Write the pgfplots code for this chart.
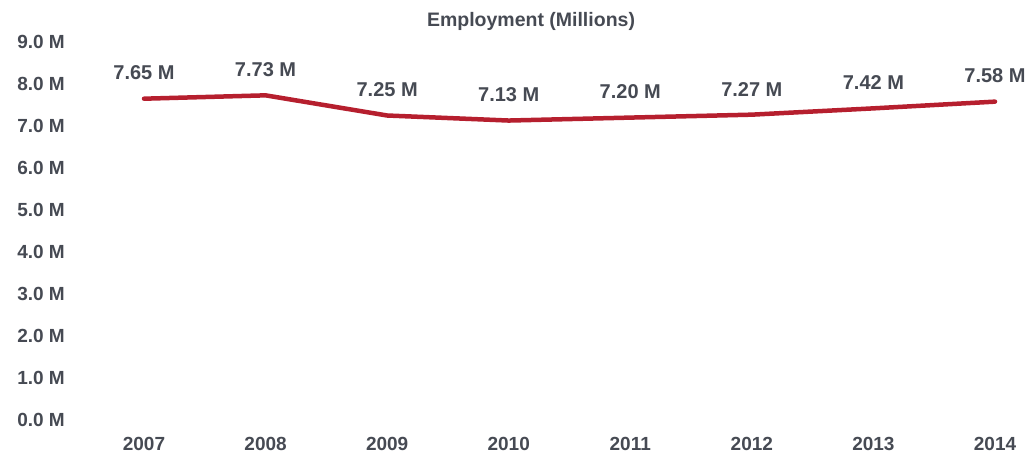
\documentclass[border=0pt]{standalone}
\usepackage{pgfplots}
\pgfplotsset{compat=1.18}
\usepackage{fontspec}
\setmainfont{Liberation Sans}
\definecolor{txt}{HTML}{464A53}
\definecolor{redline}{HTML}{B61F2E}
\begin{document}
\begin{tikzpicture}
\path[use as bounding box] (0,0) rectangle (1029pt,456pt);
\node[text=txt, font=\fontsize{19.5}{22}\selectfont\bfseries] at (531pt,435pt) {Employment (Millions)};
\begin{axis}[
  at={(144pt,36pt)}, anchor=south west,
  scale only axis, width=851pt, height=378pt,
  xmin=0, xmax=7, ymin=0, ymax=9,
  axis line style={draw=none}, tick style={draw=none},
  xtick={0,...,7}, xticklabels={2007,2008,2009,2010,2011,2012,2013,2014},
  ytick={0,...,9},
  yticklabel={\pgfmathprintnumber[fixed,fixed zerofill,precision=1]{\tick}~M},
  /pgf/number format/assume math mode=true,
  ticklabel style={text=txt, font=\fontsize{19}{22}\selectfont\bfseries},
  yticklabel style={anchor=east, inner sep=0pt, xshift=-79pt},
  xticklabel style={anchor=north, inner sep=0pt, yshift=-17pt},
  clip=false,
  nodes near coords={\pgfmathprintnumber[fixed,fixed zerofill,precision=2]{\pgfplotspointmeta}~M},
  nodes near coords style={text=txt, font=\fontsize{20}{23}\selectfont\bfseries, anchor=south, yshift=13pt},
]
\addplot[redline, line width=4.5pt, line cap=round, line join=round, mark=none] coordinates {
(0,7.65) (1,7.73) (2,7.25) (3,7.13) (4,7.20) (5,7.27) (6,7.42) (7,7.58)
};
\end{axis}
\end{tikzpicture}
\end{document}
